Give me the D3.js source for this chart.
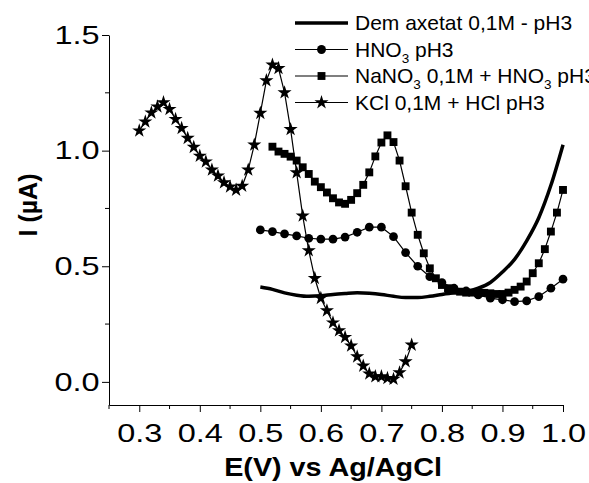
<!DOCTYPE html>
<html>
<head>
<meta charset="utf-8">
<script src="https://cdn.jsdelivr.net/npm/d3@7"></script>
<style>
  body { margin: 0; background: #fff; }
  text { font-family: Arial, "Liberation Sans", sans-serif; fill: #000; }
</style>
</head>
<body>
<svg id="chart" width="589" height="483"></svg>
<script>
// values
const demX = [0.50,0.52,0.54,0.56,0.58,0.60,0.62,0.64,0.66,0.68,0.70,0.72,0.74,0.76,0.78,0.80,0.82,0.84,0.86,0.88,0.90,0.92,0.94,0.96,0.98,1.00];
const demY = [0.41,0.40,0.385,0.375,0.37,0.372,0.378,0.382,0.385,0.383,0.378,0.37,0.365,0.365,0.37,0.378,0.385,0.39,0.405,0.43,0.475,0.53,0.61,0.71,0.85,1.025];

const hnoX = [0.50,0.52,0.54,0.56,0.58,0.60,0.62,0.64,0.66,0.68,0.70,0.72,0.74,0.76,0.78,0.80,0.82,0.84,0.86,0.88,0.90,0.92,0.94,0.96,0.98,1.00];
const hnoY = [0.657,0.650,0.640,0.631,0.621,0.617,0.617,0.626,0.647,0.669,0.669,0.628,0.559,0.50,0.455,0.429,0.405,0.393,0.376,0.362,0.355,0.347,0.35,0.369,0.405,0.444];

const naX = [0.52,0.53,0.54,0.55,0.56,0.57,0.58,0.59,0.60,0.61,0.62,0.63,0.64,0.65,0.66,0.67,0.68,0.69,0.70,0.71,0.72,0.73,0.74,0.75,0.76,0.77,0.78,0.79,0.80,0.81,0.82,0.83,0.84,0.85,0.86,0.87,0.88,0.89,0.90,0.91,0.92,0.93,0.94,0.95,0.96,0.97,0.98,0.99,1.00];
const naY = [1.017,0.996,0.986,0.974,0.957,0.928,0.899,0.866,0.842,0.819,0.794,0.776,0.770,0.787,0.816,0.852,0.906,0.975,1.035,1.066,1.037,0.957,0.846,0.732,0.636,0.556,0.491,0.448,0.419,0.405,0.395,0.390,0.386,0.386,0.386,0.385,0.383,0.380,0.380,0.386,0.398,0.412,0.434,0.470,0.513,0.574,0.650,0.732,0.830];

const kclX = [0.30,0.31,0.32,0.33,0.34,0.35,0.36,0.37,0.38,0.39,0.40,0.41,0.42,0.43,0.44,0.45,0.46,0.47,0.48,0.49,0.50,0.51,0.52,0.53,0.54,0.55,0.56,0.57,0.58,0.59,0.60,0.61,0.62,0.63,0.64,0.65,0.66,0.67,0.68,0.69,0.70,0.71,0.72,0.73,0.74,0.75];
const kclY = [1.086,1.125,1.164,1.19,1.208,1.179,1.136,1.097,1.054,1.015,0.977,0.952,0.917,0.891,0.862,0.844,0.830,0.847,0.917,1.025,1.162,1.303,1.371,1.356,1.251,1.092,0.905,0.718,0.568,0.448,0.362,0.308,0.256,0.222,0.193,0.156,0.109,0.069,0.035,0.023,0.023,0.016,0.012,0.040,0.088,0.160];

const xTicks = [0.3,0.4,0.5,0.6,0.7,0.8,0.9,1.0];
const xMinor = [0.25,0.35,0.45,0.55,0.65,0.75,0.85,0.95];
const yTicks = [0.0,0.5,1.0,1.5];
const yMinor = [0.25,0.75,1.25];

const svg = d3.select("#chart");

const x = d3.scaleLinear().domain([0.25, 1.0]).range([109, 563]);
const y = d3.scaleLinear().domain([-0.1, 1.5]).range([405, 35]);

const zip = (xs, ys) => xs.map((v, i) => [v, ys[i]]);

// axes
const xAxis = svg.append("g").attr("transform", "translate(0,405)")
  .call(d3.axisBottom(x).tickValues(xTicks).tickFormat(d3.format(".1f")).tickSize(7).tickSizeOuter(0));
xAxis.append("g").selectAll("line").data(xMinor).enter().append("line")
  .attr("x1", d => x(d)).attr("x2", d => x(d)).attr("y1", 0).attr("y2", 4).attr("stroke", "#000");

const yAxis = svg.append("g").attr("transform", "translate(109,0)")
  .call(d3.axisLeft(y).tickValues(yTicks).tickFormat(d3.format(".1f")).tickSize(7).tickSizeOuter(0));
yAxis.append("g").selectAll("line").data(yMinor).enter().append("line")
  .attr("y1", d => y(d)).attr("y2", d => y(d)).attr("x1", 0).attr("x2", -4).attr("stroke", "#000");

svg.selectAll(".domain, .tick line").attr("stroke", "#000").attr("stroke-width", 1);
// the original labels are drawn wider than plain Arial
xAxis.selectAll(".tick text").attr("font-size", 26).attr("font-family", "Arial, 'Liberation Sans', sans-serif")
  .attr("y", 37).attr("dy", "0").attr("transform", "scale(1.25,1)");
yAxis.selectAll(".tick text").attr("font-size", 26).attr("font-family", "Arial, 'Liberation Sans', sans-serif")
  .attr("x", -7.5).attr("transform", "scale(1.25,1)");

svg.append("text").text("E(V) vs Ag/AgCl")
  .attr("transform", "translate(333,476) scale(1.15,1)").attr("text-anchor", "middle")
  .attr("font-size", 25).attr("font-weight", "bold");

svg.append("text").text("I (\u00b5A)")
  .attr("transform", "translate(37,205) rotate(-90)")
  .attr("text-anchor", "middle")
  .attr("font-size", 25).attr("font-weight", "bold");

// curves
const line = d3.line().x(d => x(d[0])).y(d => y(d[1]));
const line2 = d3.line().x(d => x(d[0])).y(d => y(d[1])).curve(d3.curveMonotoneX);

svg.append("path").datum(zip(demX, demY))
  .attr("d", line2).attr("fill", "none").attr("stroke", "#000").attr("stroke-width", 3.5);

const series = [
  { pts: zip(hnoX, hnoY), sym: d3.symbolCircle, size: 60 },
  { pts: zip(naX, naY), sym: d3.symbolSquare, size: 62 },
  { pts: zip(kclX, kclY), sym: d3.symbolStar, size: 62 }
];

series.forEach(s => {
  svg.append("path").datum(s.pts)
    .attr("d", line).attr("fill", "none").attr("stroke", "#000").attr("stroke-width", 1.2);
  svg.append("g").selectAll("path").data(s.pts).enter().append("path")
    .attr("d", d3.symbol().type(s.sym).size(s.size))
    .attr("transform", d => `translate(${x(d[0])},${y(d[1])})`)
    .attr("fill", "#000");
});

// legend
const legendRows = [
  { parts: [["Dem axetat 0,1M - pH3", 0]], sym: null },
  { parts: [["HNO", 0], ["3", 1], [" pH3", 0]], sym: d3.symbolCircle },
  { parts: [["NaNO", 0], ["3", 1], [" 0,1M + HNO", 0], ["3", 1], [" pH3", 0]], sym: d3.symbolSquare },
  { parts: [["KCl 0,1M + HCl pH3", 0]], sym: d3.symbolStar }
];

const lg = svg.append("g").selectAll("g").data(legendRows).enter().append("g")
  .attr("transform", (d, i) => `translate(0,${23 + i * 26.5})`);

lg.append("line").attr("x1", 295).attr("x2", 348).attr("y1", 0).attr("y2", 0)
  .attr("stroke", "#000").attr("stroke-width", d => d.sym ? 1.2 : 3.5);
lg.filter(d => d.sym).append("path")
  .attr("d", d => d3.symbol().type(d.sym).size(62)())
  .attr("transform", "translate(321.5,0)").attr("fill", "#000");

const lt = lg.append("text").attr("x", 355).attr("y", 7).attr("font-size", 21);
lt.selectAll("tspan").data(d => d.parts).enter().append("tspan")
  .text(d => d[0])
  .attr("font-size", d => d[1] ? 13.5 : 21)
  .attr("dy", (d, i, n) => {
    if (d[1]) return 6;
    const prev = n[i - 1] && d3.select(n[i - 1]).datum();
    return prev && prev[1] ? -6 : 0;
  });
</script>
</body>
</html>
